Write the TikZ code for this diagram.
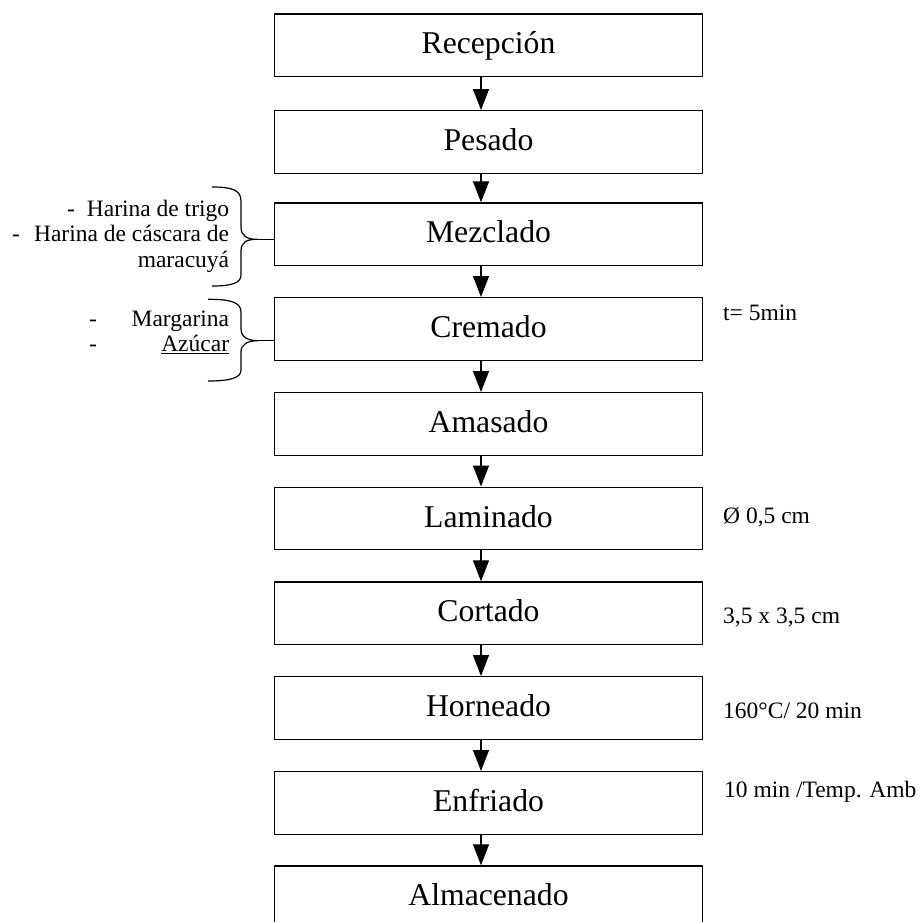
\documentclass[tikz,border=0pt]{standalone}
\usepackage{fontspec}
\setmainfont{Liberation Serif}
\usetikzlibrary{arrows.meta}
\begin{document}
\begin{tikzpicture}[x=1pt,y=-1pt,
  stepbox/.style={draw, line width=1.2pt, minimum width=428pt, minimum height=62.5pt,
    inner sep=0pt, anchor=north, font=\fontsize{31.7}{38}\selectfont,
    text height=22pt, text depth=4.5pt},
  arr/.style={-{Triangle[length=21pt,width=16pt]}, line width=1.2pt},
  side/.style={font=\fontsize{23.5}{26}\selectfont, inner sep=0pt},
  brace/.style={line width=1.2pt}]
\useasboundingbox (0,0) rectangle (921,922);
\foreach \n/\t/\y in {0/Recepción/13.3, 1/Pesado/110, 2/Mezclado/202.3, 3/Cremado/297,
  4/Amasado/392, 5/Laminado/486.5, 6/Cortado/581.3, 7/Horneado/676, 8/Enfriado/771,
  9/Almacenado/865.3}
  \node[stepbox] (b\n) at (488.5,\y) {\t};
\foreach \a/\b in {0/1,1/2,2/3,3/4,4/5,5/6,6/7,7/8,8/9}
  \draw[arr] ([xshift=-7.5pt]b\a.south) -- ([xshift=-7.5pt]b\b.north);
% right notes
\node[side, anchor=base west] (n3) at (723,320) {t= 5min};
\node[side, anchor=base west] (n5) at (723,523.3) {Ø 0,5 cm};
\node[side, anchor=base west] (n6) at (723,623.3) {3,5 x 3,5 cm};
\node[side, anchor=base west] (n7) at (723,718.3) {160°C/ 20 min};
\node[side, anchor=base west] (n8) at (724,797.3) {10 min /Temp. Amb};
% left inputs
\node[side, anchor=base east] (h1) at (229.3,216) {Harina de trigo};
\node[side, anchor=base west] (d1) at (67,216) {-};
\node[side, anchor=base east] (h2) at (229.3,241.7) {Harina de cáscara de};
\node[side, anchor=base west] (d2) at (12,241.7) {-};
\node[side, anchor=base east] (h3) at (229.3,267.3) {maracuyá};
\node[side, anchor=base east] (m1) at (229.3,326.7) {Margarina};
\node[side, anchor=base west] (d3) at (89,326.7) {-};
\node[side, anchor=base east] (m2) at (229.3,351.7) {\underline{Azúcar}};
\node[side, anchor=base west] (d4) at (89,351.7) {-};
% braces
\coordinate (k1) at (257,239.3);
\draw[brace] (212,187) .. controls (232,187) and (241,190) .. (241,201) -- (241,227)
  .. controls (241,236) and (247,239.3) .. (k1)
  .. controls (247,239.3) and (241,242) .. (241,251) -- (241,275)
  .. controls (241,283) and (232,286) .. (212,286);
\draw[brace] (k1) -- (k1 -| b2.west);
\coordinate (k2) at (258,340.7);
\draw[brace] (208,299.3) .. controls (230,299.3) and (241,302) .. (241,312) -- (241,329)
  .. controls (241,337) and (248,340.7) .. (k2)
  .. controls (248,340.7) and (241,344) .. (241,352) -- (241,370)
  .. controls (241,378) and (230,381) .. (208,381);
\draw[brace] (k2) -- (k2 -| b3.west);
\end{tikzpicture}
\end{document}
